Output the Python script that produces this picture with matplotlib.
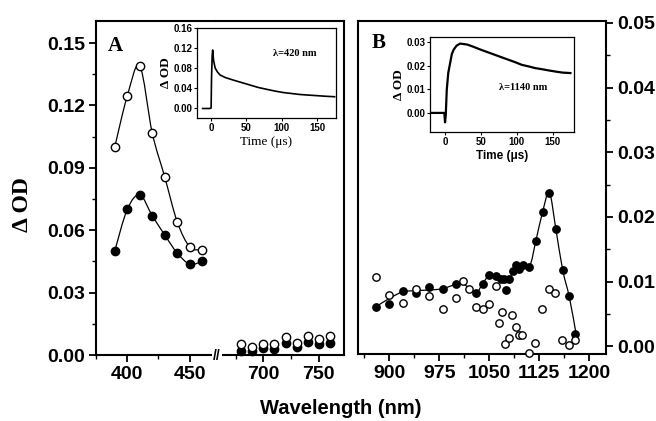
import numpy as np
import matplotlib
matplotlib.use("Agg")
import matplotlib.pyplot as plt
from matplotlib.path import Path
from matplotlib.patches import PathPatch
from matplotlib.ticker import MultipleLocator, FormatStrFormatter

plt.rcParams['font.family'] = ['Liberation Sans', 'DejaVu Sans']
plt.rcParams['font.weight'] = 'bold'
SERIF = ['Liberation Serif', 'DejaVu Serif']

# ---- panel A, visible region
wl_A_vis = [390, 400, 410, 420, 430, 440, 450, 460]
open_A_vis = [0.100, 0.1245, 0.139, 0.1067, 0.0856, 0.064, 0.052, 0.0505]
filled_A_vis = [0.050, 0.070, 0.077, 0.067, 0.0577, 0.049, 0.0437, 0.045]
# ---- panel A, 680-760 nm region
wl_A_nir = [680, 690, 700, 710, 720, 730, 740, 750, 760]
open_A_nir = [0.0053, 0.0040, 0.0053, 0.0053, 0.0085, 0.0059, 0.0091, 0.0075, 0.0091]
filled_A_nir = [0.0021, 0.0021, 0.0032, 0.0027, 0.0056, 0.0040, 0.0064, 0.0053, 0.0059]

# ---- panel B
wl_B_filled = [880, 900, 920, 940, 960, 980, 1000, 1030, 1040, 1050, 1060, 1067, 1072, 1075,
               1080, 1085, 1090, 1095, 1100, 1110, 1120, 1130, 1140, 1150, 1160, 1170, 1179]
od_B_filled = [0.0061, 0.0066, 0.0086, 0.0083, 0.0091, 0.0089, 0.0097, 0.0082, 0.0096, 0.0110,
               0.0109, 0.0104, 0.0104, 0.0087, 0.0104, 0.0116, 0.0125, 0.0119, 0.0125, 0.0122,
               0.0163, 0.0207, 0.0237, 0.0181, 0.0118, 0.0077, 0.0019]
wl_B_open = [880, 900, 920, 940, 960, 980, 1000, 1010, 1020, 1030, 1040, 1050, 1060, 1065, 1069,
             1074, 1080, 1084, 1090, 1094, 1099, 1109, 1119, 1129, 1139, 1149, 1159, 1169, 1179]
od_B_open = [0.0107, 0.0080, 0.0067, 0.0088, 0.0077, 0.0057, 0.0075, 0.0101, 0.0088, 0.0061,
             0.0057, 0.0066, 0.0093, 0.0036, 0.0053, 0.0003, 0.0012, 0.0048, 0.0030, 0.0017,
             0.0017, -0.0010, 0.0005, 0.0058, 0.0088, 0.0083, 0.0010, 0.0002, 0.0010]
# guide line through the filled points
wl_B_fit = [880, 900, 920, 940, 960, 980, 1000, 1010, 1030, 1040, 1050, 1060, 1080, 1085,
            1095, 1110, 1120, 1130, 1140, 1150, 1160, 1170, 1180]
od_B_fit = [0.0061, 0.0074, 0.0084, 0.0086, 0.0087, 0.0089, 0.0096, 0.0097, 0.0084, 0.0097,
            0.0110, 0.0108, 0.0105, 0.0118, 0.0125, 0.0123, 0.0164, 0.0208, 0.0238, 0.0180,
            0.0118, 0.0076, 0.0020]

# ---- inset kinetic traces
t_A = [-12, -2, 0, 0.6, 1.5, 2.2, 3.5, 5.7, 9, 12.7, 20, 31, 43, 55, 67, 79, 90, 102, 114,
       126, 138, 150, 162, 175]
dod_A = [-0.001, -0.001, 0.0, 0.06, 0.105, 0.116, 0.095, 0.080, 0.072, 0.066, 0.061, 0.056,
         0.051, 0.046, 0.041, 0.0373, 0.034, 0.031, 0.029, 0.027, 0.0258, 0.0247, 0.0235, 0.0225]
t_B = [-20, -1, 0, 1, 2.4, 4.5, 7, 9.5, 12, 16, 21, 31, 40, 50, 60, 69, 78, 88, 98, 107, 117,
       126, 136, 145, 155, 164, 175]
dod_B = [0.0, 0.0, -0.004, -0.001, 0.0098, 0.017, 0.021, 0.025, 0.0268, 0.0285, 0.0294, 0.029,
         0.028, 0.0268, 0.0257, 0.0247, 0.0237, 0.0226, 0.0215, 0.0204, 0.0197, 0.019, 0.0185,
         0.018, 0.0175, 0.0171, 0.0169]


def smooth_curve(ax, x, y, **kw):
    # catmull-rom through the points, drawn as bezier segments
    p = np.column_stack([np.asarray(x, float), np.asarray(y, float)])
    pp = np.vstack([p[0], p, p[-1]])
    verts = [p[0]]
    codes = [Path.MOVETO]
    for i in range(1, len(pp) - 2):
        p0, p1, p2, p3 = pp[i - 1], pp[i], pp[i + 1], pp[i + 2]
        verts += [p1 + (p2 - p0) / 6, p2 - (p3 - p1) / 6, p2]
        codes += [Path.CURVE4] * 3
    ax.add_patch(PathPatch(Path(verts, codes), fill=False, **kw))


def px(l, t, r, b):
    return [l / 656, (421 - b) / 421, (r - l) / 656, (b - t) / 421]


fig = plt.figure(figsize=(6.56, 4.21), dpi=100)
axA1 = fig.add_axes(px(96, 21, 216, 355))
axA2 = fig.add_axes(px(216, 21, 344, 355), sharey=axA1)
axB = fig.add_axes(px(358, 21, 606, 354))
insA = fig.add_axes(px(197, 28, 336, 118))
insB = fig.add_axes(px(430, 37, 574, 132))

op = dict(ls='none', marker='o', mfc='white', mec='black', mew=1.0)
fi = dict(ls='none', marker='o', mfc='black', mec='black', mew=1.0)

# panel A
smooth_curve(axA1, wl_A_vis, open_A_vis, color='black', lw=0.9)
smooth_curve(axA1, wl_A_vis, filled_A_vis, color='black', lw=0.9)
axA1.plot(wl_A_vis, open_A_vis, ms=6, zorder=3, **op)
axA1.plot(wl_A_vis, filled_A_vis, ms=6, zorder=3, **fi)
axA2.plot(wl_A_nir, filled_A_nir, ms=6, clip_on=False, zorder=3, **fi)
axA2.plot(wl_A_nir, open_A_nir, ms=6, clip_on=False, zorder=3, **op)
axA1.set_xlim(375, 471)
axA2.set_xlim(657, 773)
axA1.set_ylim(0, 0.1606)
axA1.xaxis.set_major_locator(MultipleLocator(50))
axA1.xaxis.set_minor_locator(MultipleLocator(25))
axA2.xaxis.set_major_locator(MultipleLocator(50))
axA2.xaxis.set_minor_locator(MultipleLocator(25))
axA1.yaxis.set_major_locator(MultipleLocator(0.03))
axA1.yaxis.set_minor_locator(MultipleLocator(0.015))
axA1.yaxis.set_major_formatter(FormatStrFormatter('%.2f'))
axA1.spines['right'].set_visible(False)
axA2.spines['left'].set_visible(False)
axA2.tick_params(axis='y', which='both', left=False, labelleft=False)
axA1.text(0.1, 0.955, 'A', transform=axA1.transAxes, family=SERIF, fontsize=15,
          fontweight='bold', ha='left', va='top')

# panel B
smooth_curve(axB, wl_B_fit, od_B_fit, color='black', lw=0.9)
axB.plot(wl_B_filled, od_B_filled, ms=5.3, zorder=3, clip_on=False, **fi)
axB.plot(wl_B_open, od_B_open, ms=5.3, zorder=3, clip_on=False, **op)
axB.set_xlim(853, 1225)
axB.set_ylim(-0.0012, 0.0503)
axB.xaxis.set_major_locator(MultipleLocator(75))
axB.xaxis.set_minor_locator(MultipleLocator(37.5))
axB.yaxis.set_major_locator(MultipleLocator(0.01))
axB.yaxis.set_minor_locator(MultipleLocator(0.005))
axB.yaxis.set_major_formatter(FormatStrFormatter('%.2f'))
axB.tick_params(axis='y', which='both', left=False, labelleft=False, right=True, labelright=True)
axB.text(0.055, 0.965, 'B', transform=axB.transAxes, family=SERIF, fontsize=15,
         fontweight='bold', ha='left', va='top')

for ax in (axA1, axA2, axB):
    for s in ax.spines.values():
        s.set_linewidth(1.5)
    ax.tick_params(which='major', direction='out', length=5, width=1.3, labelsize=14, pad=3)
    ax.tick_params(which='minor', direction='out', length=3, width=1.0)

# insets
insA.plot(t_A, dod_A, color='black', lw=1.2)
insA.set_xlim(-20, 177)
insA.set_ylim(-0.02, 0.16)
insA.set_xticks([0, 50, 100, 150])
insA.set_yticks([0, 0.04, 0.08, 0.12, 0.16])
insA.yaxis.set_major_formatter(FormatStrFormatter('%.2f'))
insA.set_ylabel('Δ OD', family=SERIF, fontsize=9.5, fontweight='bold', labelpad=1)
insA.set_xlabel('Time (μs)', family=SERIF, fontsize=9.5, fontweight='normal', labelpad=2)
insA.text(0.55, 0.72, 'λ=420 nm', transform=insA.transAxes, family=SERIF, fontsize=7.5,
          fontweight='bold', va='center')

insB.plot(t_B, dod_B, color='black', lw=1.6)
insB.set_xlim(-21, 180)
insB.set_ylim(-0.0081, 0.0322)
insB.set_xticks([0, 50, 100, 150])
insB.set_yticks([0, 0.01, 0.02, 0.03])
insB.yaxis.set_major_formatter(FormatStrFormatter('%.2f'))
insB.set_ylabel('Δ OD', family=SERIF, fontsize=9.5, fontweight='bold', labelpad=1)
insB.set_xlabel('Time (μs)', fontsize=8.5, fontweight='bold', labelpad=2)
insB.text(0.48, 0.47, 'λ=1140 nm', transform=insB.transAxes, family=SERIF, fontsize=7.5,
          fontweight='bold', va='center')

for ax in (insA, insB):
    for s in ax.spines.values():
        s.set_linewidth(0.9)
    ax.tick_params(direction='out', length=2, width=0.8, labelsize=7, pad=1.5)

# axis titles and the axis break
fig.text(22 / 656, 1 - 205 / 421, 'Δ OD', family=SERIF, fontsize=17, fontweight='bold',
         rotation=90, ha='center', va='center')
fig.text(341 / 656, 1 - 409 / 421, 'Wavelength (nm)', fontsize=14.5, fontweight='bold',
         ha='center', va='center')
fig.text(217 / 656, 1 - 356 / 421, '//', fontsize=10, fontweight='bold', ha='center',
         va='center', bbox=dict(fc='white', ec='none', pad=0.6))

fig.savefig('out.png', dpi=100)
